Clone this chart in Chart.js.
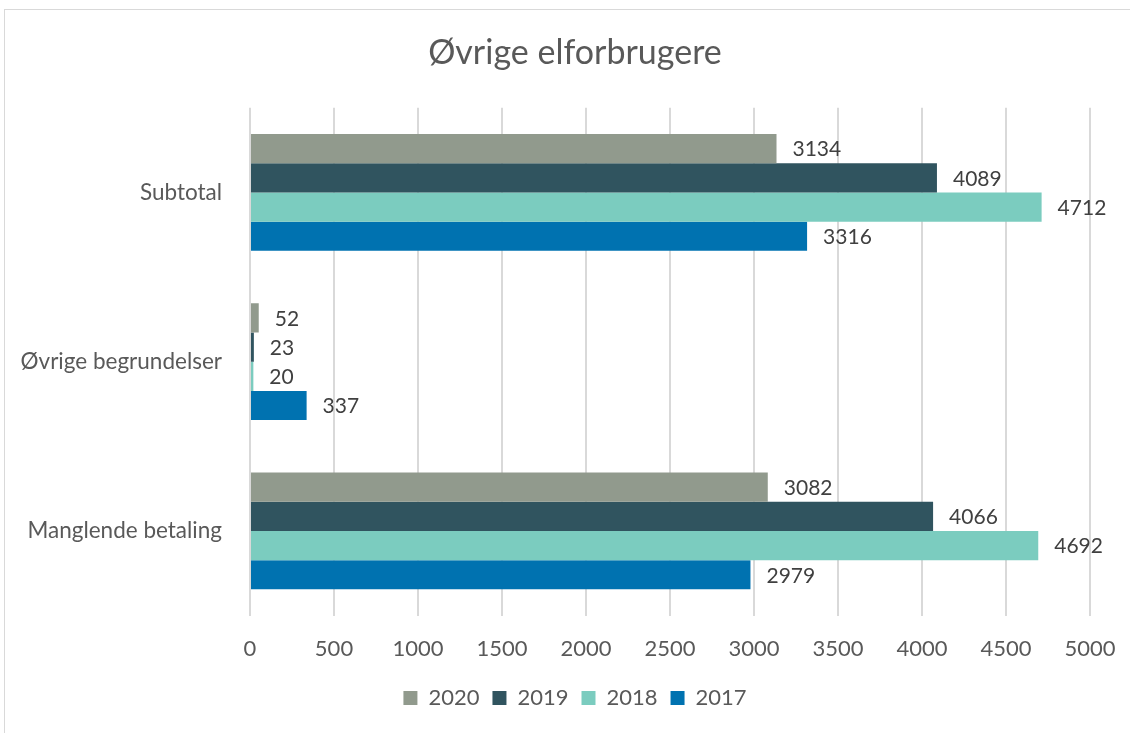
<!DOCTYPE html>
<html>
<head>
<meta charset="utf-8">
<script src="https://cdn.jsdelivr.net/npm/chart.js@4"></script>
<style>
html,body{margin:0;padding:0;background:#fff;overflow:hidden;}
#wrap{position:relative;width:1130px;height:733px;overflow:hidden;}
#frame{position:absolute;left:4px;top:9px;width:1140px;height:740px;border:1px solid #d9d9d9;box-sizing:border-box;pointer-events:none;}
</style>
</head>
<body>
<div id="wrap">
<canvas id="grafico" width="1150" height="733"></canvas>
<div id="frame"></div>
</div>
<script>
const kategorier=['Subtotal','Øvrige begrundelser','Manglende betaling'];
const aar=['2020','2019','2018','2017'];
const v2020=[3134,52,3082];
const v2019=[4089,23,4066];
const v2018=[4712,20,4692];
const v2017=[3316,337,2979];
const farver=['#919a8d','#30545f','#7bccbf','#0072b0'];
const xTicks=[0,500,1000,1500,2000,2500,3000,3500,4000,4500,5000];

const FONT='Lato, "Open Sans", sans-serif';

const vaerdiLabels={
  id:'vaerdiLabels',
  afterDatasetsDraw(chart){
    const ctx=chart.ctx;
    ctx.save();
    ctx.font='21px '+FONT;
    ctx.fillStyle='#404040';
    ctx.textAlign='left';
    ctx.textBaseline='middle';
    chart.data.datasets.forEach(function(ds,i){
      chart.getDatasetMeta(i).data.forEach(function(bar,j){
        ctx.fillText(String(ds.data[j]),bar.x+16,bar.y+1);
      });
    });
    ctx.restore();
  }
};

const serier=[v2020,v2019,v2018,v2017];
new Chart(document.getElementById('grafico').getContext('2d'),{
  type:'bar',
  data:{
    labels:kategorier,
    datasets:aar.map(function(a,i){return {label:a,data:serier[i],backgroundColor:farver[i],borderWidth:0,barPercentage:1,categoryPercentage:0.69};})
  },
  options:{
    indexAxis:'y',
    responsive:false,
    animation:false,
    layout:{padding:{left:0,right:0,top:0,bottom:14}},
    plugins:{
      title:{display:true,text:'Øvrige elforbrugere',color:'#595959',font:{family:FONT,size:34,weight:'normal',lineHeight:1.2},padding:{top:33,bottom:34}},
      legend:{position:'bottom',labels:{color:'#595959',font:{family:FONT,size:22},boxWidth:14,boxHeight:14,padding:13}},
      tooltip:{enabled:false}
    },
    scales:{
      x:{
        min:0,max:5000,
        afterBuildTicks:function(s){s.ticks=xTicks.map(function(v){return {value:v};});},
        afterFit:function(s){s.height=s.height-8;},
        grid:{color:'#d9d9d9',lineWidth:2,drawTicks:false},
        border:{display:false},
        ticks:{color:'#595959',font:{family:FONT,size:22},padding:20,callback:function(v){return String(v);}}
      },
      y:{
        grid:{display:false,drawTicks:false},
        border:{display:false},
        ticks:{color:'#595959',font:{family:FONT,size:22.5},padding:28},
        afterFit:function(s){s.width=250;}
      },
      hoejre:{
        type:'category',
        position:'right',
        grid:{display:false,drawTicks:false},
        border:{display:false},
        ticks:{display:false},
        afterFit:function(s){s.width=60;}
      }
    }
  },
  plugins:[vaerdiLabels]
});
</script>
</body>
</html>
